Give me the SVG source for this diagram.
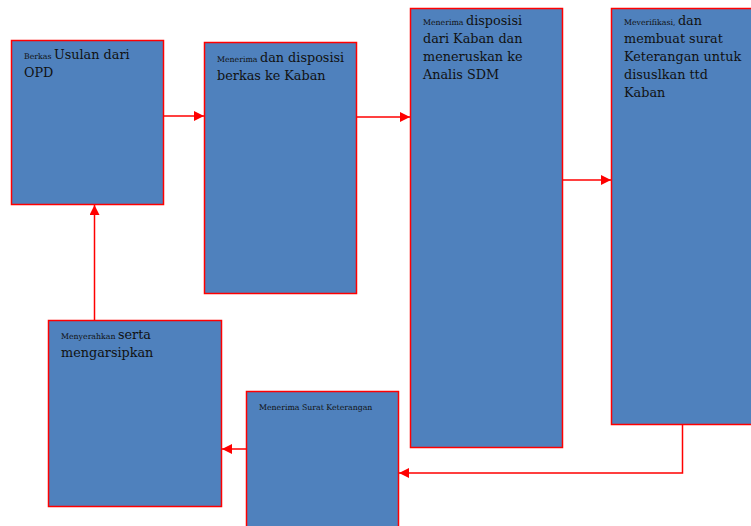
<svg xmlns="http://www.w3.org/2000/svg" width="751" height="526" viewBox="0 0 751 526">
<defs>
<style>
.box{fill:#4F81BD;stroke:#FF0000;stroke-width:1.5}
.t{font-family:"DejaVu Serif","Liberation Serif",serif;fill:#111;font-size:12.8px}
.s{font-size:7.8px}
.c{fill:none;stroke:#FF0000;stroke-width:1.5}
</style>
<marker id="ah" viewBox="0 0 10 10" refX="10" refY="5" markerWidth="10" markerHeight="10" markerUnits="userSpaceOnUse" orient="auto">
<path d="M0,0 L10,5 L0,10 z" fill="#FF0000"/>
</marker>
</defs>
<rect width="751" height="526" fill="#fff"/>
<g id="n1"><rect class="box" x="11.5" y="40.5" width="152" height="164"/>
<text class="t" x="24" y="59"><tspan class="s">Berkas </tspan>Usulan dari</text>
<text class="t" x="24" y="77">OPD</text></g>
<g id="n2"><rect class="box" x="204.5" y="42.5" width="152" height="251"/>
<text class="t" x="217" y="62"><tspan class="s">Menerima </tspan>dan disposisi</text>
<text class="t" x="217" y="80">berkas ke Kaban</text></g>
<g id="n3"><rect class="box" x="410.5" y="8.5" width="152" height="439"/>
<text class="t" x="423" y="25"><tspan class="s">Menerima </tspan>disposisi</text>
<text class="t" x="423" y="43">dari Kaban dan</text>
<text class="t" x="423" y="61">meneruskan ke</text>
<text class="t" x="423" y="79">Analis SDM</text></g>
<g id="n4"><rect class="box" x="611.5" y="8.5" width="152" height="416"/>
<text class="t" x="624" y="25"><tspan class="s">Meverifikasi, </tspan>dan</text>
<text class="t" x="624" y="43">membuat surat</text>
<text class="t" x="624" y="61">Keterangan untuk</text>
<text class="t" x="624" y="79">disuslkan ttd</text>
<text class="t" x="624" y="97">Kaban</text></g>
<g id="n5"><rect class="box" x="48.5" y="320.5" width="173" height="186"/>
<text class="t" x="61" y="339"><tspan class="s">Menyerahkan </tspan>serta</text>
<text class="t" x="61" y="357">mengarsipkan</text></g>
<g id="n6"><rect class="box" x="246.5" y="391.5" width="152" height="150"/>
<text class="t s" x="259" y="410">Menerima Surat Keterangan</text></g>
<g id="connectors">
<path class="c" d="M163.5,116 H204" marker-end="url(#ah)"/>
<path class="c" d="M356.5,117 H410" marker-end="url(#ah)"/>
<path class="c" d="M562.5,180 H611" marker-end="url(#ah)"/>
<path class="c" d="M682.5,424.5 V473 H399" marker-end="url(#ah)"/>
<path class="c" d="M246,449 H222" marker-end="url(#ah)"/>
<path class="c" d="M94.5,320 V205" marker-end="url(#ah)"/>
</g>
</svg>
